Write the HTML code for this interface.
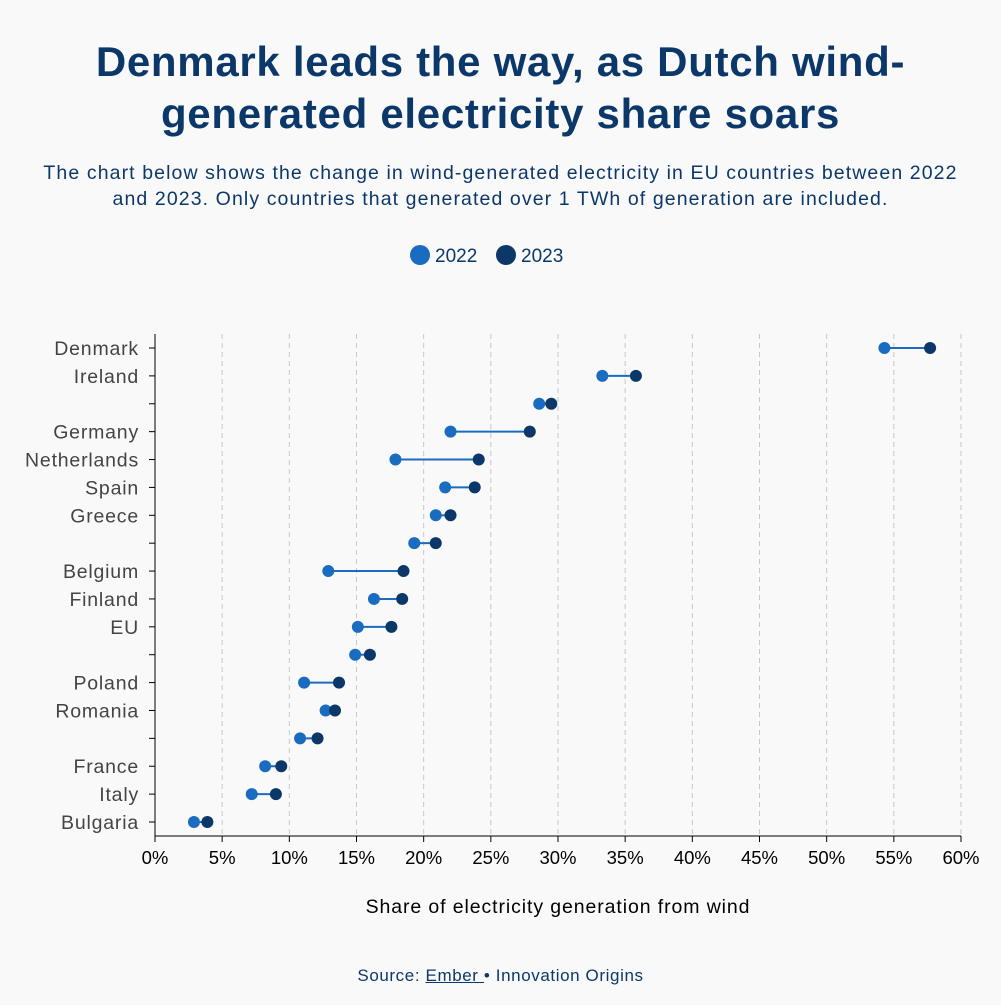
<!DOCTYPE html>
<html><head><meta charset="utf-8"><style>
body{margin:0;background:#f9f9f9;font-family:"Liberation Sans",sans-serif;}
#wrap{width:1001px;height:1005px;position:relative;background:#f9f9f9;}
h1{position:absolute;top:36px;left:0;width:1001px;margin:0;text-align:center;color:#0b3869;font-size:42px;line-height:52px;font-weight:bold;letter-spacing:0.7px;}
.sub{position:absolute;top:160px;left:0;width:1001px;text-align:center;color:#0b3869;font-size:19.5px;line-height:26px;letter-spacing:1.1px;}
.src{position:absolute;top:966px;width:1001px;text-align:center;color:#0b3869;font-size:17px;letter-spacing:0.6px;}
</style></head><body>
<div id="wrap">
<h1>Denmark leads the way, as Dutch wind-<br>generated electricity share soars</h1>
<div class="sub">The chart below shows the change in wind-generated electricity in EU countries between 2022<br>and 2023. Only countries that generated over 1 TWh of generation are included.</div>
<svg id="svg" width="1001" height="1005" style="position:absolute;left:0;top:0"></svg>
<div class="src">Source: <u>Ember </u> • Innovation Origins</div>
</div>
<script>
const countries=["Denmark","Ireland","","Germany","Netherlands","Spain","Greece","","Belgium","Finland","EU","","Poland","Romania","","France","Italy","Bulgaria"];
const v2022=[54.3,33.3,28.6,22.0,17.9,21.6,20.9,19.3,12.9,16.3,15.1,14.9,11.1,12.7,10.8,8.2,7.2,2.9];
const v2023=[57.7,35.8,29.5,27.9,24.1,23.8,22.0,20.9,18.5,18.4,17.6,16.0,13.7,13.4,12.1,9.4,9.0,3.9];
const xTicks=[0,5,10,15,20,25,30,35,40,45,50,55,60];
const svg=document.getElementById('svg');
const NS="http://www.w3.org/2000/svg";
const x0=155,x1=961,yTop=334,yBot=836;
const x=v=>x0+(v/60)*(x1-x0);
const y=i=>348+i*(822-348)/(countries.length-1);
function mk(t,a,txt){const e=document.createElementNS(NS,t);for(const k in a)e.setAttribute(k,a[k]);if(txt!==undefined)e.textContent=txt;svg.appendChild(e);return e;}
let e;
e=mk('circle',{cx:420,cy:255,r:10,fill:'#1a6cc0'});


e=mk('text',{x:435,y:262,'font-size':19,fill:'#0b3869'},'2022');


e=mk('circle',{cx:506,cy:255,r:10,fill:'#0b3869'});


e=mk('text',{x:521,y:262,'font-size':19,fill:'#0b3869'},'2023');


xTicks.forEach(t=>{
 if(t>0){e=mk('line',{x1:x(t),x2:x(t),y1:yTop,y2:yBot,stroke:'#c8c8c8','stroke-dasharray':'5,4'});
 
 }
 e=mk('line',{x1:x(t),x2:x(t),y1:yBot,y2:yBot+6,stroke:'#000'});
 
 
 e=mk('text',{x:x(t),y:yBot+28,'text-anchor':'middle','font-size':18.5,fill:'#000'},t+'%');
 
 
});
e=mk('line',{x1:x0,x2:x1,y1:yBot,y2:yBot,stroke:'#000'});


e=mk('line',{x1:x0,x2:x0,y1:yTop,y2:yBot,stroke:'#000'});


e=mk('text',{x:558,y:913,'text-anchor':'middle','font-size':19.5,fill:'#000','letter-spacing':'0.9'},'Share of electricity generation from wind');


countries.forEach((c,i)=>{
 const yy=y(i);
 e=mk('line',{x1:x0-6,x2:x0,y1:yy,y2:yy,stroke:'#000'});
 
 
 e=mk('text',{x:x0-16,y:yy+7,'text-anchor':'end','font-size':19.5,fill:'#444','letter-spacing':'0.8'},c);
 
 
 e=mk('line',{x1:x(v2022[i]),x2:x(v2023[i]),y1:yy,y2:yy,stroke:'#1a6cc0','stroke-width':2});
 
 
 e=mk('circle',{cx:x(v2022[i]),cy:yy,r:6,fill:'#1a6cc0'});
 
 
 e=mk('circle',{cx:x(v2023[i]),cy:yy,r:6,fill:'#0b3869'});
 
 
});
</script>
</body></html>
